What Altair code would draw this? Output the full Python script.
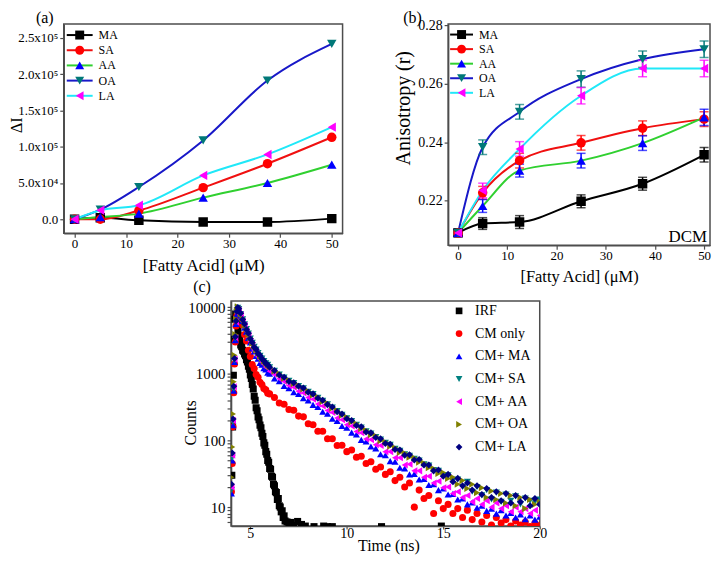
import altair as alt
import pandas as pd

FONT = "Liberation Serif"

# ---------------- panels (a) and (b) ----------------
SERIES = ["MA", "SA", "AA", "OA", "LA"]
KEY_ROWS = [0, 1, 2, 3, 4]
CONC = [0, 5, 12.5, 25, 37.5, 50]

DI_MA = [0, 2000, -1400, -3700, -3700, 900]
DI_SA = [0, 0, 12000, 43600, 76600, 113000]
DI_AA = [0, 3000, 7800, 29800, 50000, 75200]
DI_OA = [0, 13300, 44500, 108700, 191300, 241700]
DI_LA = [0, 12400, 19300, 60500, 89400, 127000]

ANI_MA = [0.2090, 0.2122, 0.2127, 0.2198, 0.2258, 0.2357]
ANI_SA = [0.2090, 0.2227, 0.2337, 0.2398, 0.2448, 0.2479]
ANI_AA = [0.2090, 0.2182, 0.2303, 0.2337, 0.2397, 0.2485]
ANI_OA = [0.2090, 0.2383, 0.2504, 0.2616, 0.2684, 0.2718]
ANI_LA = [0.2090, 0.2235, 0.2377, 0.2559, 0.2652, 0.2652]

ERR_MA = [0.0012, 0.0020, 0.0022, 0.0022, 0.0022, 0.0025]
ERR_SA = [0.0012, 0.0022, 0.0025, 0.0025, 0.0025, 0.0025]
ERR_AA = [0.0012, 0.0022, 0.0022, 0.0025, 0.0025, 0.0028]
ERR_OA = [0.0012, 0.0025, 0.0025, 0.0028, 0.0028, 0.0028]
ERR_LA = [0.0012, 0.0025, 0.0025, 0.0028, 0.0028, 0.0028]

LINE_COLORS = ["#000000", "#F01010", "#30D030", "#1818C8", "#20E8F8"]
MARK_COLORS = ["#000000", "#FF0000", "#0000FF", "#007878", "#FF00FF"]
SHAPES = ["square", "circle", "triangle-up", "triangle-down", "triangle-left"]

A_XTICKS = [0, 10, 20, 30, 40, 50]
A_YTICKS = [0, 50000, 100000, 150000, 200000, 250000]
B_YTICKS = [0.22, 0.24, 0.26, 0.28]
SOLVENT = "DCM"
PANEL_LABELS = ["(a)", "(b)", "(c)"]

# ---------------- panel (c) ----------------
C_SERIES = ["IRF", "CM only", "CM+ MA", "CM+ SA", "CM+ AA", "CM+ OA", "CM+ LA"]
C_COLORS = ["#000000", "#FF0000", "#0000FF", "#008080", "#FF00FF", "#808000", "#000080"]
C_SHAPES = ["square", "circle", "triangle-up", "triangle-down", "triangle-left",
            "triangle-right", "diamond"]
C_XTICKS = [5, 10, 15, 20]
C_YTICKS = [6, 7, 8, 9, 10, 20, 30, 40, 50, 60, 70, 80, 90, 100, 200, 300, 400, 500,
            600, 700, 800, 900, 1000, 2000, 3000, 4000, 5000, 6000, 7000, 8000, 9000, 10000]

IRF_T = [4.04, 4.08, 4.12, 4.16, 4.20, 4.24, 4.28, 4.32, 4.36, 4.40,
         4.45, 4.50, 4.55, 4.60, 4.65, 4.70, 4.75, 4.80, 4.85, 4.90, 4.95, 5.00,
         5.05, 5.10, 5.15, 5.20, 5.25, 5.30, 5.35, 5.40, 5.45, 5.50, 5.55, 5.60,
         5.65, 5.70, 5.75, 5.80, 5.85, 5.90, 5.95, 6.00, 6.05, 6.10, 6.15, 6.20,
         6.25, 6.30, 6.35, 6.40, 6.45, 6.50, 6.55, 6.60, 6.65, 6.70, 6.75, 6.80,
         6.90, 7.00, 7.10, 7.25, 7.45, 7.65, 7.85, 8.30, 8.80, 9.00, 9.25, 11.80, 14.90]
IRF_V = [30, 160, 950, 3300, 6600, 7900, 7100, 5700, 4500, 3700,
         3150, 2700, 2550, 2250, 2180, 1980, 1870, 1630, 1500, 1300, 1170, 960,
         850, 690, 590, 460, 400, 310, 280, 225, 205, 170, 155, 128,
         115, 92, 85, 68, 62, 50, 47, 38, 37, 29, 28, 22,
         21, 17, 16.5, 13, 13.5, 10.5, 10, 8.5, 8.8, 7, 7.4, 6.2,
         6.0, 5.6, 5.9, 5.3, 6.1, 5.5, 5.2, 5.1, 5.2, 5.1, 5.1, 5.1, 5.2]

C_TIME = [4.02, 4.06, 4.10, 4.14, 4.18, 4.22, 4.26, 4.30, 4.35, 4.40,
          4.5, 4.6, 4.7, 4.8, 4.9, 5.0, 5.1, 5.2, 5.3, 5.4, 5.5, 5.6, 5.7, 5.8, 5.9, 6.0,
          6.25, 6.5, 6.75, 7.0, 7.25, 7.5, 7.75, 8.0, 8.25, 8.5, 8.75, 9.0, 9.25, 9.5,
          9.75, 10.0, 10.25, 10.5, 10.75, 11.0, 11.25, 11.5, 11.75, 12.0, 12.25, 12.5,
          12.75, 13.0, 13.25, 13.5, 13.75, 14.0, 14.25, 14.5, 14.75, 15.0, 15.25, 15.5,
          15.75, 16.0, 16.25, 16.5, 16.75, 17.0, 17.25, 17.5, 17.75, 18.0, 18.25, 18.5,
          18.75, 19.0, 19.25, 19.5, 19.75, 20.0]

CM_ONLY = [17, 45, 160, 520, 1400, 3000, 5200, 7400, 8600, 8300,
           7000, 5400, 3900, 3100, 2250, 1820, 1380, 1200, 980, 890, 745, 690, 600, 575, 510, 500,
           440, 365, 350, 292, 285, 232, 226, 178, 172, 138, 138, 106, 106, 84, 85, 68, 72, 56,
           58, 45, 48, 37, 40, 31, 34, 25, 28, 20, 23, 10, 18, 13.5, 15, 8, 12.5, 9.5, 11, 8,
           9.5, 7, 9, 6.5, 8, 6, 7.5, 5.4, 7, 5.8, 6.5, 5.2, 6.2, 5.4, 6, 5.1, 5.8, 5.3]
CM_MA = [16, 50, 170, 560, 1500, 3200, 5600, 7800, 9000, 8600,
         7300, 6200, 4900, 4300, 3450, 2950, 2400, 2160, 1850, 1690, 1460, 1370, 1210, 1160, 1040, 1000,
         850, 775, 655, 610, 530, 498, 430, 400, 342, 318, 270, 252, 212, 196, 165, 155, 131, 123,
         102, 97, 81, 76, 62, 60, 49, 48, 39, 38, 31, 31.5, 26, 26.5, 21.5, 22, 18, 19, 15.5, 15.8,
         13, 13.5, 11, 11.8, 9.8, 10.5, 8.8, 9.5, 8, 9, 7.5, 8.2, 7, 7.8, 6.6, 7.5, 6.5, 7.2]
CM_SA = [18, 55, 190, 600, 1600, 3400, 6000, 8400, 9800, 9400,
         7850, 6550, 5520, 4680, 4020, 3380, 2920, 2540, 2310, 2040, 1860, 1690, 1560, 1440, 1360, 1255,
         1105, 975, 880, 785, 725, 655, 605, 535, 495, 435, 395, 350, 312, 276, 243, 216, 196, 172,
         156, 137, 127, 113, 103, 92, 86, 75, 70, 62, 59, 53, 50, 44, 42, 36, 35, 30, 30, 25,
         26, 20, 24, 17, 20, 15, 18, 13, 16.5, 12, 15.5, 12.5, 14.5, 11, 13.5, 12.5, 12, 13]
CM_AA = [20, 60, 200, 640, 1650, 3500, 6000, 8200, 9300, 8800,
         7700, 6200, 5300, 4350, 3750, 3050, 2680, 2270, 2090, 1800, 1670, 1490, 1390, 1260, 1210, 1090,
         980, 840, 770, 665, 630, 548, 515, 440, 415, 352, 330, 282, 262, 218, 205, 172, 165, 136,
         131, 105, 103, 86, 84, 68, 68, 55, 55, 43, 44, 35, 35, 28, 29, 23, 24.5, 19.5, 20, 16,
         17, 14, 15, 12, 13.5, 11, 12.5, 10, 11.5, 9.5, 10.5, 8.5, 10, 8.5, 9.5, 8, 9, 7.5]
CM_OA = [28, 80, 250, 760, 1900, 3900, 6600, 8900, 10100, 9600,
         8000, 6700, 5450, 4750, 3950, 3450, 2880, 2580, 2280, 2080, 1830, 1720, 1540, 1460, 1340, 1280,
         1090, 1000, 860, 800, 710, 670, 590, 550, 480, 450, 385, 362, 305, 282, 240, 224, 190, 178,
         150, 142, 122, 118, 99, 95, 82, 78, 66, 65, 56, 55, 47, 46, 39, 38, 32, 33, 27, 28,
         22, 25, 19, 22, 16.5, 19.5, 14, 17.5, 13, 16, 11.5, 15, 10.5, 14, 9.5, 13, 11, 12]
CM_LA = [22, 65, 210, 650, 1700, 3600, 6200, 8600, 9900, 9500,
         8100, 6500, 5600, 4600, 4050, 3350, 2950, 2500, 2330, 2020, 1880, 1680, 1570, 1430, 1370, 1250,
         1120, 960, 890, 770, 735, 650, 610, 530, 500, 430, 400, 345, 318, 270, 250, 212, 200, 168,
         160, 134, 130, 111, 106, 90, 88, 73, 72, 60, 61, 51, 52, 43, 43, 35, 36, 29, 31, 24,
         27, 21, 23, 18, 21, 15.5, 19, 14, 17, 12.5, 16, 11.5, 15, 12, 14, 10.5, 13.5, 11]

# ---------------- data frames ----------------
rows_a, rows_b = [], []
for s, dvals, avals, evals in zip(
        SERIES,
        [DI_MA, DI_SA, DI_AA, DI_OA, DI_LA],
        [ANI_MA, ANI_SA, ANI_AA, ANI_OA, ANI_LA],
        [ERR_MA, ERR_SA, ERR_AA, ERR_OA, ERR_LA]):
    for x, d, a, e in zip(CONC, dvals, avals, evals):
        rows_a.append({"s": s, "x": x, "y": d})
        rows_b.append({"s": s, "x": x, "y": a, "lo": a - e, "hi": a + e})
df_a = pd.DataFrame(rows_a)
df_b = pd.DataFrame(rows_b)
df_leg = pd.DataFrame({"s": SERIES, "row": KEY_ROWS})

rows_c = [{"s": "IRF", "t": t, "v": v} for t, v in zip(IRF_T, IRF_V)]
for s, vals in zip(C_SERIES[1:], [CM_ONLY, CM_MA, CM_SA, CM_AA, CM_OA, CM_LA]):
    rows_c += [{"s": s, "t": t, "v": v} for t, v in zip(C_TIME, vals)]
df_c = pd.DataFrame(rows_c)

INDEP = dict(color="independent", fill="independent", shape="independent")

line_color = alt.Color("s:N", scale=alt.Scale(domain=SERIES, range=LINE_COLORS), legend=None)
mark_fill = alt.Fill("s:N", scale=alt.Scale(domain=SERIES, range=MARK_COLORS), legend=None)
mark_shape = alt.Shape("s:N", scale=alt.Scale(domain=SERIES, range=SHAPES), legend=None)


def panel_label(text, dx, dy):
    return alt.Chart(pd.DataFrame({"label": [text]})).mark_text(
        font=FONT, fontSize=16, align="left", baseline="middle", color="black").encode(
        text="label:N", x=alt.value(dx), y=alt.value(dy))


def key_block(yrange, x_line, x_mark, x_text):
    # the in-plot key: line segment, marker and name for each series
    ykey = alt.Y("row:Q", scale=alt.Scale(domain=[0, 4], range=yrange, nice=False, zero=False),
                 axis=None)
    rules = alt.Chart(df_leg).mark_rule(strokeWidth=2).encode(
        x=alt.value(x_line[0]), x2=alt.value(x_line[1]), y=ykey, color=line_color)
    marks = alt.Chart(df_leg).mark_point(filled=True, size=81, opacity=1).encode(
        x=alt.value(x_mark), y=ykey, fill=mark_fill, shape=mark_shape)
    names = alt.Chart(df_leg).mark_text(
        align="left", baseline="middle", font=FONT, fontSize=12, color="black").encode(
        x=alt.value(x_text), y=ykey, text="s:N")
    return alt.layer(rules, marks, names)


# ---------------- panel (a) ----------------
label_expr_a = ("datum.value == 0 ? '0.0' : datum.value == 50000 ? '5.0x10\u2074' : "
                "datum.value == 100000 ? '1.0x10\u2075' : datum.value == 150000 ? '1.5x10\u2075' : "
                "datum.value == 200000 ? '2.0x10\u2075' : '2.5x10\u2075'")
xa = alt.X("x:Q", scale=alt.Scale(domain=[-2.1, 52.1], nice=False, zero=False),
           axis=alt.Axis(values=A_XTICKS, format="d", title="[Fatty Acid] (\u03bcM)",
                         labelFontSize=13, titleFontSize=17, tickSize=4, labelPadding=0,
                         titlePadding=7, labelFlush=False))
ya = alt.Y("y:Q", scale=alt.Scale(domain=[-19200, 269000], nice=False, zero=False),
           axis=alt.Axis(values=A_YTICKS, labelExpr=label_expr_a, title="\u0394I",
                         titleFontSize=16, titleX=-39, titleY=101, labelFontSize=13,
                         tickSize=4, labelPadding=2, labelFlush=False))
lines_a = alt.Chart(df_a).mark_line(interpolate="monotone", strokeWidth=2, clip=True).encode(
    x=xa, y=ya, color=line_color)
pts_a = alt.Chart(df_a).mark_point(filled=True, size=90, opacity=1, clip=True).encode(
    x=xa, y=ya, fill=mark_fill, shape=mark_shape)
chart_a = alt.layer(
    alt.layer(lines_a, pts_a),
    key_block([11, 72], (3, 29), 16, 35),
    panel_label(PANEL_LABELS[0], -28, -6),
).resolve_scale(y="independent").properties(width=280, height=210)

# ---------------- panel (b) ----------------
xb_scale = alt.Scale(domain=[-2.02, 51.2], nice=False, zero=False)
yb_scale = alt.Scale(domain=[0.2048, 0.2804], nice=False, zero=False)
xb_axis = alt.Axis(values=A_XTICKS, format="d", title="[Fatty Acid] (\u03bcM)",
                   labelFontSize=13, titleFontSize=16.5, tickSize=4, labelPadding=0,
                   titlePadding=6, labelFlush=False)
yb_axis = alt.Axis(values=B_YTICKS, format=".2f", title="Anisotropy (r)",
                   titleFontSize=20, titleX=-35, titleY=84, labelFontSize=14,
                   tickSize=4, labelPadding=2, labelFlush=False)
xb = alt.X("x:Q", scale=xb_scale, axis=xb_axis)
yb = alt.Y("y:Q", scale=yb_scale, axis=yb_axis)
lines_b = alt.Chart(df_b).mark_line(interpolate="monotone", strokeWidth=2, clip=True).encode(
    x=xb, y=yb, color=line_color)
pts_b = alt.Chart(df_b).mark_point(filled=True, size=90, opacity=1, clip=True).encode(
    x=xb, y=yb, fill=mark_fill, shape=mark_shape)
err_layers = []
for s, col in zip(SERIES, MARK_COLORS):
    err_layers.append(
        alt.Chart(df_b[df_b["s"] == s]).mark_errorbar(ticks=True, size=9, thickness=1.5,
                                                       color=col).encode(
            x=alt.X("x:Q", scale=xb_scale, axis=xb_axis),
            y=alt.Y("lo:Q", scale=yb_scale, axis=yb_axis),
            y2="hi:Q"))
txt_b = alt.Chart(pd.DataFrame({"label": [SOLVENT]})).mark_text(
    font=FONT, fontSize=17, align="right", baseline="alphabetic", color="black").encode(
    text="label:N", x=alt.value(260), y=alt.value(219))
chart_b = alt.layer(
    alt.layer(lines_b, *err_layers, pts_b),
    key_block([10.5, 69], (2, 25), 13.5, 31),
    panel_label(PANEL_LABELS[1], -45, -6),
    txt_b,
).resolve_scale(y="independent").properties(width=263, height=222)

# ---------------- panel (c) ----------------
label_expr_c = "indexof([10, 100, 1000, 10000], datum.value) >= 0 ? format(datum.value, 'd') : ''"
leg_c = alt.Legend(orient="none", legendX=222, legendY=3, title=None, symbolSize=45,
                   labelFont=FONT, labelFontSize=14, labelOffset=9, rowPadding=8.8, padding=0)
pts_c = alt.Chart(df_c).mark_point(filled=True, size=50, opacity=1, clip=True).encode(
    x=alt.X("t:Q", scale=alt.Scale(domain=[4.0, 20.0], nice=False, zero=False),
            axis=alt.Axis(values=C_XTICKS, format="d", title="Time (ns)", labelFontSize=14,
                          titleFontSize=16, tickSize=3, labelPadding=-2, titleX=158,
                          titleY=12, labelFlush=False)),
    y=alt.Y("v:Q", scale=alt.Scale(type="log", domain=[5.22, 12400], nice=False),
            axis=alt.Axis(values=C_YTICKS, labelExpr=label_expr_c, title="Counts",
                          titleFontSize=16, titleX=-33, titleY=122, labelFontSize=15,
                          tickSize=4, labelPadding=2, labelOverlap=False, labelFlush=False)),
    color=alt.Color("s:N", scale=alt.Scale(domain=C_SERIES, range=C_COLORS), legend=leg_c),
    shape=alt.Shape("s:N", scale=alt.Scale(domain=C_SERIES, range=C_SHAPES), legend=leg_c),
)
chart_c = alt.layer(pts_c, panel_label(PANEL_LABELS[2], -38, -14)).properties(
    width=310, height=226)

spacer = alt.Chart(pd.DataFrame({"z": [0]})).mark_point(opacity=0).encode(
    x=alt.value(0), y=alt.value(0)).properties(
    width=117, height=10, view=alt.ViewBackground(stroke="transparent"))

row1 = alt.hconcat(chart_a, chart_b, spacing=49).resolve_scale(**INDEP)
row2 = alt.hconcat(spacer, chart_c, spacing=0).resolve_scale(**INDEP)
chart = alt.vconcat(row1, row2, spacing=-8).resolve_scale(**INDEP).properties(
    padding=0
).configure_view(
    stroke="#4d4d4d", strokeWidth=1.5
).configure_axis(
    labelFont=FONT, titleFont=FONT, titleFontWeight="normal", labelColor="black",
    titleColor="black", domainColor="#4d4d4d", tickColor="#4d4d4d", domainWidth=1.5,
    tickWidth=1.2, grid=False
).configure_legend(labelFont=FONT, labelColor="black")

chart.save("out.html", embed_options={"renderer": "svg", "actions": False})
